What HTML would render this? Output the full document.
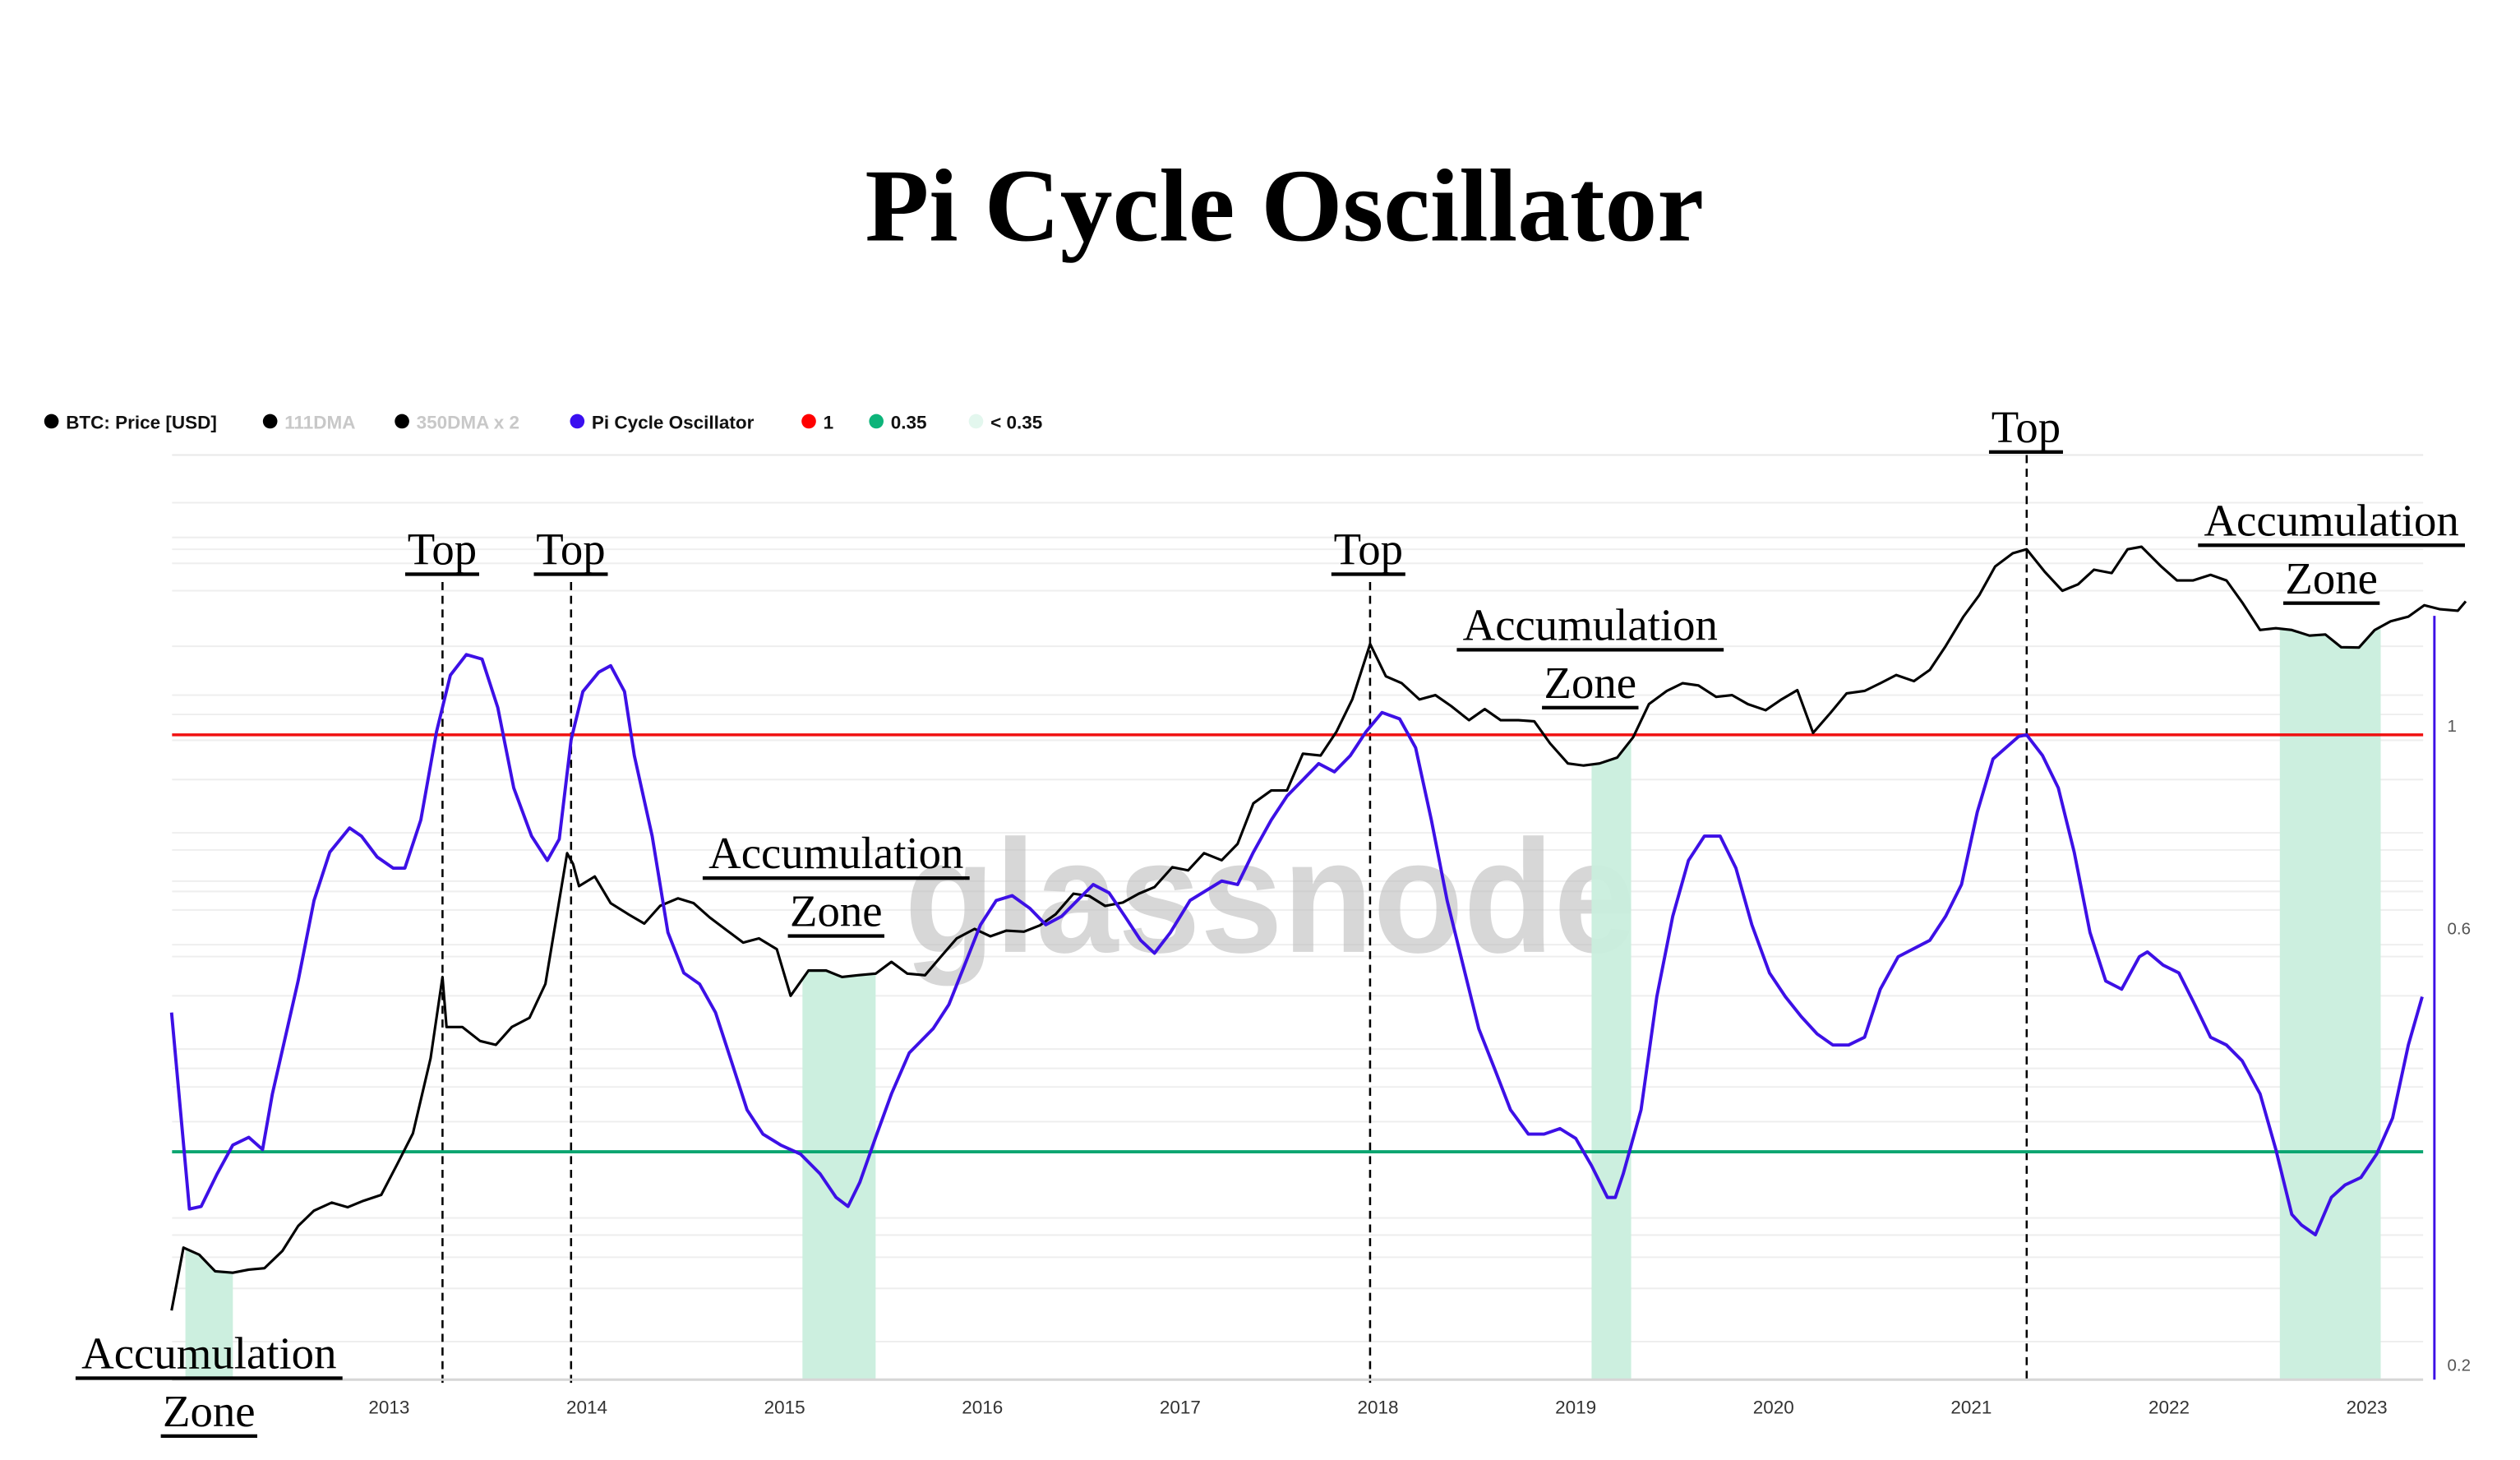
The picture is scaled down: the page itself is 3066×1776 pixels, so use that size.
<!DOCTYPE html>
<html><head><meta charset="utf-8">
<style>
html,body{margin:0;padding:0;background:#fff;}
svg{display:block;}
</style></head>
<body>
<svg id="chart" xmlns="http://www.w3.org/2000/svg" width="3066" height="1776" viewBox="0 0 1550 898" preserveAspectRatio="none">
<rect width="1550" height="898" fill="#fff"/>
<text x="790" y="148" text-anchor="middle" font-family="'Liberation Serif',serif" font-weight="bold" font-size="64" textLength="516" lengthAdjust="spacingAndGlyphs">Pi Cycle Oscillator</text>
<g transform="scale(0.989)">
<g id="legend" font-family="'Liberation Sans',sans-serif" font-weight="bold" font-size="11.5">
<g><circle cx="32" cy="262" r="4.5" fill="#000"/><text x="41" y="266.5" fill="#111">BTC: Price [USD]</text></g>
<g><circle cx="168" cy="262" r="4.5" fill="#000"/><text x="177" y="266.5" fill="#c8c8c8">111DMA</text></g>
<g><circle cx="250" cy="262" r="4.5" fill="#000"/><text x="259" y="266.5" fill="#c8c8c8">350DMA x 2</text></g>
<g><circle cx="359" cy="262" r="4.5" fill="#3a0ff0"/><text x="368" y="266.5" fill="#111">Pi Cycle Oscillator</text></g>
<g><circle cx="503" cy="262" r="4.5" fill="#f00"/><text x="512" y="266.5" fill="#111">1</text></g>
<g><circle cx="545" cy="262" r="4.5" fill="#0db47a"/><text x="554" y="266.5" fill="#111">0.35</text></g>
<g><circle cx="607" cy="262" r="4.5" fill="#e3f7ee"/><text x="616" y="266.5" fill="#111">&lt; 0.35</text></g>
</g>
<g id="grid"></g>
<text x="790" y="592" text-anchor="middle" font-family="'Liberation Sans',sans-serif" font-weight="bold" font-size="100" fill="#bdbdbd" fill-opacity="0.6" textLength="455" lengthAdjust="spacingAndGlyphs">glassnode</text>
<g id="zones"></g>
<g id="tops"></g>
<g id="series"></g>
<g id="axes"></g>
<g id="notes" font-family="'Liberation Serif',serif" font-size="28" text-anchor="middle"></g>
</g>
</svg>
<script>
// ---- data ----
const priceDates = [2011.90,2011.96,2012.04,2012.12,2012.21,2012.29,2012.37,2012.46,2012.54,2012.62,2012.71,2012.79,2012.87,2012.96,
2013.04,2013.12,2013.21,2013.27,2013.29,2013.37,2013.46,2013.54,2013.62,2013.71,2013.79,2013.90,2013.93,2013.96,
2014.04,2014.12,2014.21,2014.29,2014.37,2014.46,2014.54,2014.62,2014.71,2014.79,2014.87,2014.96,
2015.03,2015.12,2015.21,2015.29,2015.37,2015.46,2015.54,2015.62,2015.71,2015.79,2015.87,2015.96,
2016.04,2016.12,2016.21,2016.29,2016.37,2016.46,2016.54,2016.62,2016.71,2016.79,2016.87,2016.96,
2017.04,2017.12,2017.21,2017.29,2017.37,2017.46,2017.54,2017.62,2017.71,2017.79,2017.87,2017.96,
2018.04,2018.12,2018.21,2018.29,2018.37,2018.46,2018.54,2018.62,2018.71,2018.79,2018.87,2018.96,
2019.04,2019.12,2019.21,2019.29,2019.37,2019.46,2019.54,2019.62,2019.71,2019.79,2019.87,2019.96,
2020.04,2020.12,2020.20,2020.29,2020.37,2020.46,2020.54,2020.62,2020.71,2020.79,2020.87,2020.96,
2021.04,2021.12,2021.21,2021.28,2021.37,2021.46,2021.54,2021.62,2021.71,2021.79,2021.86,2021.96,
2022.04,2022.12,2022.21,2022.29,2022.37,2022.46,2022.54,2022.62,2022.71,2022.79,2022.87,2022.96,
2023.04,2023.12,2023.21,2023.29,2023.37,2023.46,2023.50];
const priceValues = [3,6.8,6.2,5,4.9,5.1,5.2,6.5,9,11,12.2,11.5,12.5,13.5,
20,30,80,230,120,120,100,95,120,135,210,1150,1000,750,
850,600,520,460,580,640,600,500,420,360,380,330,
180,250,250,230,235,240,280,240,235,300,380,430,
390,420,415,450,520,680,660,580,605,680,740,960,
920,1150,1050,1300,2200,2600,2600,4200,4100,5600,8500,17500,
11500,10500,8500,9000,7800,6500,7500,6500,6500,6400,4800,3700,
3600,3700,4000,5200,8000,9500,10500,10200,8800,9000,8000,7400,
8500,9600,5500,7200,9200,9500,10500,11700,10800,12500,17000,25000,
33000,48000,57000,60000,45000,35000,38000,46000,44000,60000,62000,48000,
40000,40000,43000,40000,30000,21000,21500,21000,19500,19800,16800,16700,
21000,23500,25000,29000,27500,27000,30500];
const oscDates = [2011.90,2011.99,2012.05,2012.13,2012.21,2012.29,2012.36,2012.41,2012.54,2012.62,2012.70,2012.80,2012.86,2012.94,2013.02,2013.08,2013.16,2013.24,2013.31,2013.39,2013.47,2013.55,2013.63,2013.72,2013.80,2013.86,2013.92,2013.98,2014.06,2014.12,2014.19,2014.24,2014.33,2014.41,2014.49,2014.57,2014.65,2014.73,2014.81,2014.89,2014.98,2015.08,2015.18,2015.26,2015.32,2015.38,2015.46,2015.54,2015.63,2015.75,2015.83,2015.91,2015.99,2016.07,2016.15,2016.24,2016.32,2016.40,2016.48,2016.56,2016.64,2016.72,2016.80,2016.87,2016.95,2017.05,2017.21,2017.29,2017.37,2017.46,2017.54,2017.62,2017.70,2017.78,2017.86,2017.94,2018.02,2018.11,2018.19,2018.27,2018.35,2018.43,2018.51,2018.59,2018.67,2018.76,2018.84,2018.92,2019.00,2019.08,2019.16,2019.20,2019.24,2019.33,2019.41,2019.49,2019.57,2019.65,2019.73,2019.81,2019.89,2019.98,2020.06,2020.14,2020.22,2020.30,2020.38,2020.46,2020.54,2020.63,2020.71,2020.79,2020.87,2020.95,2021.03,2021.11,2021.24,2021.28,2021.36,2021.44,2021.52,2021.60,2021.68,2021.76,2021.85,2021.89,2021.97,2022.05,2022.13,2022.21,2022.29,2022.37,2022.46,2022.54,2022.62,2022.67,2022.74,2022.82,2022.89,2022.97,2023.05,2023.13,2023.21,2023.28];
const oscValues = [0.497,0.303,0.305,0.331,0.356,0.363,0.352,0.405,0.538,0.659,0.744,0.791,0.775,0.735,0.715,0.715,0.807,1.008,1.162,1.224,1.210,1.071,0.875,0.775,0.729,0.769,0.988,1.115,1.171,1.190,1.115,0.949,0.775,0.608,0.549,0.534,0.497,0.440,0.389,0.366,0.356,0.348,0.331,0.312,0.305,0.324,0.363,0.405,0.449,0.477,0.507,0.560,0.620,0.659,0.667,0.646,0.620,0.633,0.659,0.686,0.672,0.633,0.596,0.577,0.608,0.659,0.692,0.686,0.744,0.807,0.857,0.893,0.930,0.911,0.949,1.008,1.058,1.041,0.968,0.807,0.659,0.560,0.477,0.431,0.389,0.366,0.366,0.371,0.362,0.338,0.312,0.312,0.331,0.389,0.517,0.633,0.729,0.775,0.775,0.715,0.620,0.549,0.517,0.492,0.471,0.458,0.458,0.467,0.527,0.572,0.584,0.596,0.633,0.686,0.823,0.941,0.996,1.0,0.949,0.875,0.744,0.608,0.538,0.527,0.572,0.579,0.560,0.549,0.507,0.467,0.458,0.440,0.405,0.352,0.299,0.291,0.284,0.312,0.322,0.328,0.348,0.381,0.458,0.517];
const yearTicks = [2013,2014,2015,2016,2017,2018,2019,2020,2021,2022,2023];
const oscTicks = [1,0.6,0.2];
const oscTickLabels = ["1","0.6","0.2"];
const thresholdTop = 1;
const thresholdLow = 0.35;
const zoneStarts = [2011.97,2015.09,2019.08,2022.56];
const zoneEnds = [2012.21,2015.46,2019.28,2023.07];
const topDates = [2013.27,2013.92,2017.96,2021.28];
const gridPrices = [110000,70000,60000,50000,35000,17000,9000,7000,5000,3000,1500,1200,800,700,550,350,300,180,90,70,55,35,10,8,6,4,2];

// ---- scales ----
const L=107,R=1507,B=858;
const xS = d => 242 + (d-2013)*123;
const yOsc = v => 457 - 247*Math.log(v);
const yPrice = p => 815 - 47.8*Math.log(p/3);
const NS='http://www.w3.org/2000/svg';
function mk(tag, parent, attrs){const e=document.createElementNS(NS,tag);for(const k in attrs)e.setAttribute(k,attrs[k]);parent.appendChild(e);return e;}

// grid
const grid=document.getElementById('grid');
gridPrices.forEach(p=>{const y=yPrice(p);if(y<283||y>850)return;
 const l=mk('line',grid,{x1:L,x2:R,y1:y,y2:y,stroke:'#eeeeee','stroke-width':1});
 
 });
const gt=mk('line',grid,{x1:L,x2:R,y1:283,y2:283,stroke:'#e8e8e8','stroke-width':1});



// price path
let pd='';
priceDates.forEach((d,i)=>{pd+=(i?'L':'M')+xS(d).toFixed(1)+' '+yPrice(priceValues[i]).toFixed(1);});

// zones: area under price clipped to zone
const zones=document.getElementById('zones');
const defs=mk('defs',document.getElementById('chart'),{});
zoneStarts.forEach((s,i)=>{
 const cp=mk('clipPath',defs,{id:'zc'+i});
 mk('rect',cp,{x:xS(s),y:280,width:xS(zoneEnds[i])-xS(s),height:B-280});
 const a=mk('path',zones,{d:pd+'L'+xS(2023.6)+' '+B+'L'+xS(2011.8)+' '+B+'Z',fill:'#c9eedd','fill-opacity':0.95,'clip-path':'url(#zc'+i+')'});
 
 
});

// top dashed lines
const tops=document.getElementById('tops');
topDates.forEach((d,i)=>{const x=xS(d);
 const l=mk('line',tops,{x1:x,x2:x,y1:(i===3?283:362),y2:B+2,stroke:'#000','stroke-width':1.3,'stroke-dasharray':'5,3.5'});
 
 });

// series
const series=document.getElementById('series');
const red=mk('line',series,{x1:L,x2:R,y1:yOsc(thresholdTop),y2:yOsc(thresholdTop),stroke:'#f01010','stroke-width':1.8});


const grn=mk('line',series,{x1:L,x2:R,y1:yOsc(thresholdLow),y2:yOsc(thresholdLow),stroke:'#0aa570','stroke-width':2});


const pr=mk('path',series,{d:pd,fill:'none',stroke:'#000','stroke-width':1.6,'stroke-linejoin':'round'});


let od='';
oscDates.forEach((d,i)=>{od+=(i?'L':'M')+xS(d).toFixed(1)+' '+yOsc(oscValues[i]).toFixed(1);});
const os=mk('path',series,{d:od,fill:'none',stroke:'#3d10e6','stroke-width':2,'stroke-linejoin':'round'});



// axes
const axes=document.getElementById('axes');
const xa=mk('line',axes,{x1:L,x2:R,y1:B,y2:B,stroke:'#d6d6d6','stroke-width':1.5});


yearTicks.forEach(yr=>{const t=mk('text',axes,{x:xS(yr),y:879,'text-anchor':'middle','font-family':"'Liberation Sans',sans-serif",'font-size':11.5,fill:'#333'});
 t.textContent=yr;
 
 });
const ya=mk('line',axes,{x1:1514,x2:1514,y1:383,y2:B,stroke:'#3d10e6','stroke-width':1.5});


oscTicks.forEach((v,i)=>{const t=mk('text',axes,{x:1522,y:yOsc(v)-2,'font-family':"'Liberation Sans',sans-serif",'font-size':10.5,fill:'#555'});
 t.textContent=oscTickLabels[i];
 
 });

// annotations
const notes=document.getElementById('notes');
function label(txt,x,y,w){const t=mk('text',notes,{x:x,y:y});t.textContent=txt;
 
 
 mk('rect',notes,{x:x-w/2,y:y+5,width:w,height:2.2,fill:'#000'});}
label('Top',275,351,46);label('Top',355,351,46);label('Top',851,351,46);label('Top',1260,275,46);
label('Accumulation',130,851,166);label('Zone',130,887,60);
label('Accumulation',520,540,166);label('Zone',520,576,60);
label('Accumulation',989,398,166);label('Zone',989,434,60);
label('Accumulation',1450,333,166);label('Zone',1450,369,60);
</script>
</body></html>
